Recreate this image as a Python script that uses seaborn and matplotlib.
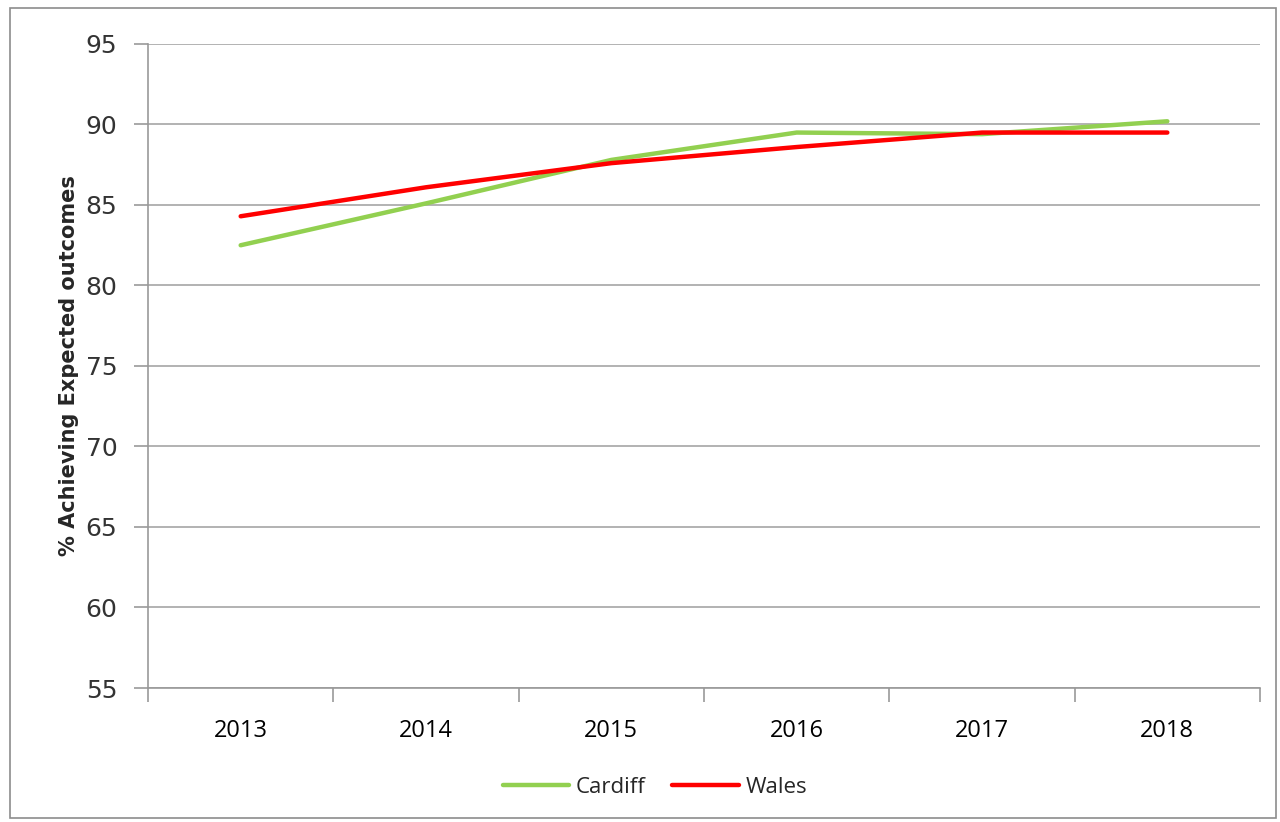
import matplotlib
matplotlib.use("Agg")
import matplotlib.pyplot as plt
import seaborn as sns
import pandas as pd
from matplotlib.patches import Rectangle
from matplotlib.lines import Line2D

years = ["2013", "2014", "2015", "2016", "2017", "2018"]
cardiff = [82.5, 85.1, 87.8, 89.5, 89.4, 90.2]
wales = [84.3, 86.1, 87.6, 88.6, 89.5, 89.5]
series_names = ["Cardiff", "Wales"]
colors = {"Cardiff": "#92D050", "Wales": "#FF0000"}
y_ticks = [55, 60, 65, 70, 75, 80, 85, 90, 95]

df = pd.DataFrame({
    "Year": years * 2,
    "Value": cardiff + wales,
    "Series": ["Cardiff"] * len(years) + ["Wales"] * len(years),
})

sns.set_style("white")
plt.rcParams["font.family"] = ["Open Sans", "DejaVu Sans"]

fig = plt.figure(figsize=(12.8, 8.22), dpi=100)
ax = fig.add_axes([148/1280, 1-688/822, (1260-148)/1280, (688-44)/822])

sns.lineplot(data=df, x="Year", y="Value", hue="Series", palette=colors,
             hue_order=series_names, linewidth=3.2, ax=ax, legend=False, sort=False)

ax.set_ylim(55, 95)
ax.set_yticks(y_ticks)
ax.set_xlim(-0.5, len(years) - 0.5)
ax.set_xticks(range(len(years)))
ax.set_xticklabels(years)
ax.set_xticks([i - 0.5 for i in range(len(years) + 1)], minor=True)
ax.tick_params(axis="x", which="major", bottom=True, length=0, pad=22, labelsize=17,
               colors="#000000")
ax.tick_params(axis="x", which="minor", bottom=True, length=10, width=1.2, color="#999999",
               direction="out")
ax.tick_params(axis="y", which="major", left=True, length=10, width=1.2, color="#999999",
               direction="out", pad=12, labelsize=18)
for lab in ax.get_yticklabels():
    lab.set_family(["DejaVu Sans"])
    lab.set_color("#333333")

ax.yaxis.grid(True, color="#A6A6A6", linewidth=1.2)
ax.xaxis.grid(False)
ax.set_axisbelow(True)
for s in ["top", "right"]:
    ax.spines[s].set_visible(False)
ax.spines["left"].set_color("#999999")
ax.spines["bottom"].set_color("#999999")
ax.spines["left"].set_linewidth(1.2)
ax.spines["bottom"].set_linewidth(1.2)

ax.set_xlabel("")
ax.set_ylabel("% Achieving Expected outcomes", fontsize=15, fontweight="bold",
              family=["Liberation Sans Narrow", "DejaVu Sans"], labelpad=5)

handles = [Line2D([0], [0], color=colors[n], linewidth=3.2) for n in series_names]
fig.legend(handles, series_names, loc="center", bbox_to_anchor=(655/1280, 1-787/822),
           ncol=2, frameon=False, fontsize=16, handlelength=3.0, handletextpad=0.3,
           columnspacing=1.2)

fig.patches.append(Rectangle((10/1280, 1-818/822), 1266/1280, 810/822,
                             transform=fig.transFigure, fill=False,
                             edgecolor="#8C8C8C", linewidth=1.2))

fig.savefig("out.png", dpi=100)
